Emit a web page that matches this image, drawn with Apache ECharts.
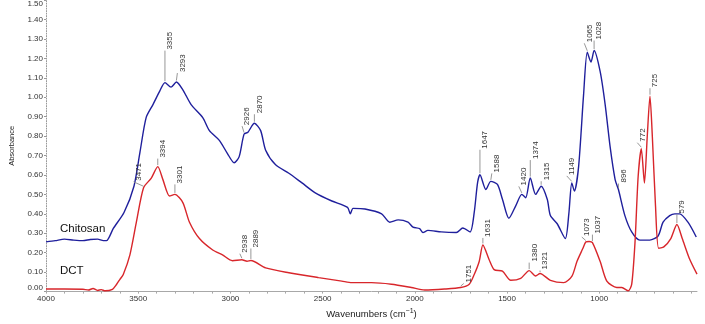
<!DOCTYPE html>
<html>
<head>
<meta charset="utf-8">
<script src="https://cdn.jsdelivr.net/npm/echarts@6/dist/echarts.min.js"></script>
<style>
  html, body { margin: 0; padding: 0; background: #fff; }
  #chart { width: 705px; height: 324px; }
</style>
</head>
<body>
<div id="chart"></div>
<script>
// FTIR absorbance spectra: [wavenumber (cm-1), absorbance]
const chitosan = [
  [4000, 0.256], [3950, 0.262], [3900, 0.270], [3850, 0.265], [3800, 0.262], [3760, 0.268],
  [3720, 0.270], [3689, 0.262], [3672, 0.262], [3635, 0.325], [3577, 0.407], [3523, 0.542],
  [3490, 0.720], [3457, 0.895], [3420, 0.962], [3384, 1.030], [3355, 1.075], [3322, 1.052],
  [3293, 1.078], [3258, 1.038], [3213, 0.962], [3150, 0.895], [3114, 0.828], [3060, 0.778],
  [3016, 0.710], [2980, 0.663], [2953, 0.693], [2926, 0.810], [2905, 0.820], [2870, 0.866],
  [2836, 0.828], [2809, 0.727], [2755, 0.652], [2683, 0.609], [2612, 0.559], [2540, 0.508],
  [2450, 0.466], [2365, 0.433], [2350, 0.400], [2335, 0.428], [2270, 0.425], [2180, 0.400],
  [2136, 0.357], [2090, 0.369], [2037, 0.357], [2010, 0.332], [1974, 0.324], [1956, 0.304],
  [1929, 0.315], [1857, 0.307], [1775, 0.304], [1740, 0.327], [1700, 0.307], [1678, 0.407],
  [1660, 0.559], [1647, 0.601], [1615, 0.525], [1588, 0.567], [1552, 0.551], [1525, 0.475],
  [1490, 0.377], [1453, 0.441], [1420, 0.500], [1399, 0.483], [1374, 0.584], [1345, 0.500],
  [1315, 0.542], [1282, 0.475], [1265, 0.391], [1228, 0.349], [1184, 0.273], [1165, 0.400],
  [1149, 0.559], [1135, 0.517], [1112, 0.643], [1085, 1.013], [1065, 1.231], [1045, 1.181],
  [1028, 1.240], [995, 1.131], [968, 0.962], [941, 0.744], [914, 0.576], [896, 0.525],
  [861, 0.391], [824, 0.307], [780, 0.265], [726, 0.265], [681, 0.286], [654, 0.357],
  [618, 0.391], [590, 0.400], [564, 0.400], [519, 0.357], [474, 0.281]
];

const dct = [
  [4000, 0.013], [3900, 0.013], [3800, 0.012], [3770, 0.008], [3745, 0.016], [3720, 0.006],
  [3700, 0.010], [3680, 0.004], [3640, 0.012], [3617, 0.038], [3599, 0.063], [3581, 0.088],
  [3545, 0.189], [3510, 0.357], [3471, 0.534], [3429, 0.584], [3394, 0.643], [3366, 0.576],
  [3330, 0.492], [3301, 0.500], [3258, 0.458], [3222, 0.357], [3168, 0.273], [3096, 0.214],
  [3043, 0.189], [2989, 0.159], [2938, 0.164], [2910, 0.156], [2889, 0.160], [2809, 0.122],
  [2683, 0.097], [2522, 0.072], [2396, 0.054], [2342, 0.046], [2235, 0.046], [2127, 0.038],
  [2019, 0.021], [1947, 0.008], [1839, 0.013], [1751, 0.021], [1705, 0.038], [1678, 0.088],
  [1651, 0.155], [1631, 0.240], [1597, 0.164], [1570, 0.113], [1525, 0.105], [1480, 0.058],
  [1426, 0.068], [1380, 0.108], [1345, 0.080], [1321, 0.093], [1265, 0.058], [1193, 0.046],
  [1148, 0.080], [1121, 0.155], [1090, 0.220], [1073, 0.255], [1055, 0.258], [1037, 0.252],
  [995, 0.155], [959, 0.054], [905, 0.021], [878, 0.021], [843, 0.004], [824, 0.038],
  [806, 0.256], [789, 0.593], [772, 0.735], [755, 0.559], [740, 0.794], [725, 1.005],
  [712, 0.794], [695, 0.441], [678, 0.223], [650, 0.230], [612, 0.273], [579, 0.345],
  [550, 0.273], [512, 0.172], [470, 0.090]
];

// labelled band positions (cm-1)
const chitosanPeaks = [3355, 3293, 2926, 2870, 1647, 1588, 1420, 1374, 1315, 1149, 1065, 1028, 896];
const dctPeaks = [3471, 3394, 3301, 2938, 2889, 1751, 1631, 1380, 1321, 1073, 1037, 772, 725, 579];

// axis ticks
const xLabels = [4000, 3500, 3000, 2500, 2000, 1500, 1000];
const yLabels = [0, 0.1, 0.2, 0.3, 0.4, 0.5, 0.6, 0.7, 0.8, 0.9, 1.0, 1.1, 1.2, 1.3, 1.4, 1.5];

// leader layout for each band label: [leader length px, horizontal shift px]
const leaderLayout = {
  3355: [32, 0], 3293: [9, 1], 2926: [8, -2], 2870: [9, 0], 1647: [25, 0], 1588: [8, 1],
  1420: [8, -3], 1374: [18, 0], 1315: [5, 0], 1149: [7, -5], 1065: [9, -3], 1028: [10, 0],
  896: [6, 0],
  3471: [6, -10], 3394: [8, 0], 3301: [10, 0], 2938: [6, -2], 2889: [12, 0], 1751: [4, 3],
  1631: [7, 0], 1380: [8, 0], 1321: [3, 0], 1073: [5, -4], 1037: [8, 0], 772: [6, -4],
  725: [8, 0], 579: [10, 0]
};

const BLUE = '#1f1f9c';
const RED = '#d8262b';
const FONT = '"Liberation Sans", Arial, sans-serif';

// absorbance of a spectrum at a given wavenumber (linear between samples)
function valueAt(spec, wn) {
  for (let i = 0; i < spec.length - 1; i++) {
    const a = spec[i], b = spec[i + 1];
    if ((wn <= a[0] && wn >= b[0])) {
      const t = (a[0] - wn) / (a[0] - b[0]);
      return a[1] + t * (b[1] - a[1]);
    }
  }
  return spec[spec.length - 1][1];
}

function peakItems(spec, peaks) {
  return peaks.map(wn => {
    const lay = leaderLayout[wn] || [8, 0];
    return [wn, valueAt(spec, wn), lay[0], lay[1]];
  });
}

function renderPeak(params, api) {
  const wn = api.value(0);
  const p = api.coord([wn, api.value(1)]);
  const len = api.value(2), dx = api.value(3);
  const tx = p[0] + dx, ty = p[1] - len;
  return {
    type: 'group',
    children: [
      {
        type: 'polyline',
        shape: { points: [[p[0], p[1] - 1.5], [tx, ty]] },
        style: { stroke: '#8c8c8c', lineWidth: 0.9, fill: null }
      },
      {
        type: 'text',
        x: tx + 1.2,
        y: ty - 1,
        rotation: Math.PI / 2,
        style: {
          text: String(wn),
          fill: '#333',
          font: '8px ' + FONT,
          align: 'left',
          verticalAlign: 'top'
        }
      }
    ]
  };
}

const xTicks = [];
for (let v = 500; v <= 4000; v += 100) xTicks.push(v);

const chart = echarts.init(document.getElementById('chart'), null, { renderer: 'canvas' });
chart.setOption({
  animation: false,
  backgroundColor: '#fff',
  grid: { left: 42.3, right: 8, top: 0, bottom: 26.5, containLabel: false },
  xAxis: {
    type: 'value',
    min: 470,
    max: 4000,
    inverse: true,
    name: '{a|Wavenumbers (cm}{s|\u22121}{a|)}',
    nameLocation: 'middle',
    nameGap: 13,
    nameTextStyle: {
      rich: {
        a: { fontSize: 9.5, fontFamily: FONT, color: '#222' },
        s: { fontSize: 7, fontFamily: FONT, color: '#222', padding: [0, 0, 6, 0] }
      }
    },
    axisLine: { show: true, lineStyle: { color: '#a8a8a8', width: 1 } },
    axisTick: { show: true, customValues: xTicks, length: 2, lineStyle: { color: '#a8a8a8' } },
    axisLabel: {
      customValues: xLabels,
      formatter: v => String(v),
      fontSize: 8,
      fontFamily: FONT,
      color: '#333',
      margin: 3
    },
    splitLine: { show: false }
  },
  yAxis: {
    type: 'value',
    min: 0,
    max: 1.5,
    name: 'Absorbance',
    nameLocation: 'middle',
    nameGap: 30,
    nameTextStyle: { fontSize: 7.5, fontFamily: FONT, color: '#222' },
    axisLine: { show: true, lineStyle: { color: '#999', width: 1, type: [1, 1.5] } },
    axisTick: { show: true, customValues: yLabels, length: 2, lineStyle: { color: '#999' } },
    axisLabel: {
      customValues: yLabels,
      formatter: v => v.toFixed(2),
      fontSize: 8,
      fontFamily: FONT,
      color: '#333',
      margin: 3,
      verticalAlignMinLabel: 'bottom',
      verticalAlignMaxLabel: 'top'
    },
    splitLine: { show: false }
  },
  graphic: [
    { type: 'text', left: 60, top: 223, style: { text: 'Chitosan', font: '11.5px ' + FONT, fill: '#111' } },
    { type: 'text', left: 60, top: 265, style: { text: 'DCT', font: '11.5px ' + FONT, fill: '#111' } }
  ],
  series: [
    {
      name: 'Chitosan',
      type: 'line',
      data: chitosan,
      showSymbol: false,
      smooth: 0.25,
      lineStyle: { color: BLUE, width: 1.4 },
      z: 3
    },
    {
      name: 'DCT',
      type: 'line',
      data: dct,
      showSymbol: false,
      smooth: 0.25,
      lineStyle: { color: RED, width: 1.4 },
      z: 3
    },
    {
      name: 'Chitosan bands',
      type: 'custom',
      renderItem: renderPeak,
      data: peakItems(chitosan, chitosanPeaks),
      z: 4,
      clip: false
    },
    {
      name: 'DCT bands',
      type: 'custom',
      renderItem: renderPeak,
      data: peakItems(dct, dctPeaks),
      z: 4,
      clip: false
    }
  ]
});
</script>
</body>
</html>
